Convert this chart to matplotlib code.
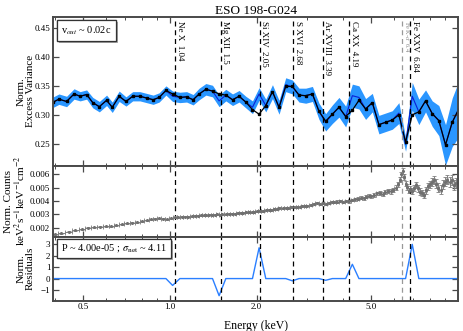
import matplotlib
matplotlib.use("Agg")
import matplotlib.pyplot as plt
import matplotlib.patheffects as pe
from matplotlib.ticker import FixedLocator, NullFormatter

plt.rcParams['font.family'] = 'serif'
plt.rcParams['font.serif'] = ['Liberation Serif', 'DejaVu Serif']
plt.rcParams['mathtext.fontset'] = 'stix'

# excess variance spectrum (top panel)
ev_energy = [0.394, 0.412, 0.438, 0.465, 0.488, 0.514, 0.540, 0.569, 0.603, 0.631,
             0.667, 0.704, 0.743, 0.787, 0.830, 0.875, 0.918, 0.969,
             1.022, 1.083, 1.143, 1.204, 1.264, 1.333, 1.406, 1.482, 1.564, 1.650,
             1.739, 1.834, 1.935,
             2.040, 2.152, 2.270, 2.393, 2.524, 2.663, 2.807, 2.961, 3.124, 3.293,
             3.473, 3.664, 3.863, 4.075, 4.299, 4.531, 4.779,
             5.042, 5.315, 5.607, 5.915, 6.235, 6.577, 6.938, 7.313, 7.715, 8.139,
             8.580, 9.051, 9.548, 10.06]
ev_data = [0.322, 0.327, 0.323, 0.336, 0.332, 0.335, 0.321, 0.314, 0.325, 0.313,
           0.332, 0.323, 0.332, 0.332, 0.329, 0.326, 0.330, 0.342,
           0.332, 0.330, 0.331, 0.326, 0.336, 0.344, 0.341, 0.324, 0.334, 0.326,
           0.332, 0.322, 0.313,
           0.336, 0.316, 0.340, 0.313, 0.352, 0.348, 0.334, 0.333, 0.336, 0.306,
           0.287, 0.301, 0.313, 0.297, 0.333, 0.330, 0.310,
           0.321, 0.283, 0.287, 0.291, 0.303, 0.249, 0.332, 0.305, 0.324, 0.302,
           0.290, 0.248, 0.287, 0.310]
ev_err = [0.009, 0.009, 0.009, 0.009, 0.008, 0.008, 0.009, 0.009, 0.009, 0.009,
          0.009, 0.008, 0.008, 0.008, 0.008, 0.008, 0.008, 0.008,
          0.009, 0.009, 0.009, 0.009, 0.010, 0.010, 0.010, 0.010, 0.010, 0.010,
          0.010, 0.010, 0.011,
          0.011, 0.011, 0.012, 0.012, 0.012, 0.012, 0.012, 0.013, 0.013, 0.014,
          0.015, 0.016, 0.017, 0.018, 0.020, 0.020, 0.018,
          0.016, 0.016, 0.016, 0.016, 0.018, 0.012, 0.024, 0.022, 0.019, 0.022,
          0.026, 0.035, 0.042, 0.048]
ev_model = [0.322, 0.327, 0.323, 0.336, 0.332, 0.335, 0.321, 0.314, 0.325, 0.313,
            0.332, 0.323, 0.332, 0.332, 0.329, 0.326, 0.330, 0.342,
            0.336, 0.330, 0.331, 0.326, 0.336, 0.344, 0.341, 0.336, 0.334, 0.326,
            0.332, 0.322, 0.309,
            0.301, 0.316, 0.340, 0.313, 0.349, 0.349, 0.334, 0.333, 0.336, 0.306,
            0.289, 0.301, 0.313, 0.297, 0.308, 0.325, 0.310,
            0.321, 0.283, 0.287, 0.291, 0.300, 0.253, 0.300, 0.305, 0.324, 0.302,
            0.290, 0.248, 0.287, 0.310]
residuals = [0, 0, 0, 0, 0, 0, 0, 0, 0, 0, 0, 0, 0, 0, 0, 0, 0, 0,
             -0.6, 0, 0, 0, 0, 0, 0, -1.5, 0, 0, 0, 0, 0,
             2.7, 0, 0, 0, 0, -0.2, 0, 0, 0, 0, -0.15, 0, 0, 0, 1.25, 0, 0,
             0, 0, 0, 0, 0, 0, 3.0, 0, 0, 0, 0, 0, 0, 0]

# mean energy spectrum (middle panel)
sp_energy = [0.40, 0.42, 0.445, 0.47, 0.495, 0.52, 0.545, 0.57, 0.60, 0.625, 0.65,
             0.68, 0.71, 0.74, 0.77, 0.80, 0.83, 0.86, 0.89, 0.92, 0.95, 0.98,
             1.01, 1.04, 1.07, 1.10, 1.13, 1.16, 1.19, 1.22, 1.25, 1.28, 1.31,
             1.34, 1.37, 1.40, 1.43, 1.46, 1.49, 1.52, 1.56, 1.60, 1.64, 1.68,
             1.72, 1.76, 1.80, 1.84, 1.88, 1.92, 1.96, 2.00, 2.05, 2.10, 2.15,
             2.20, 2.25, 2.30, 2.35, 2.40, 2.46, 2.52, 2.58, 2.64, 2.70, 2.76,
             2.82, 2.88, 2.94, 3.00,
             3.08, 3.16, 3.24, 3.32, 3.40, 3.48, 3.56, 3.64, 3.72, 3.80, 3.90,
             4.00, 4.10, 4.20, 4.30, 4.40, 4.50, 4.60, 4.70, 4.80, 4.90, 5.00,
             5.12, 5.24, 5.36, 5.48, 5.60, 5.72, 5.84, 5.96, 6.08, 6.18, 6.28,
             6.36, 6.42, 6.50, 6.58, 6.66, 6.75, 6.84, 6.94, 7.04, 7.14, 7.25,
             7.36, 7.48, 7.60, 7.72, 7.85, 7.98, 8.12, 8.26, 8.40, 8.55, 8.70,
             8.86, 9.02, 9.18, 9.35, 9.52, 9.70, 9.88]
sp_counts = [0.00150, 0.00158, 0.00170, 0.00182, 0.00190, 0.00200, 0.00205, 0.00208,
             0.00212, 0.00210, 0.00218, 0.00225, 0.00232, 0.00238, 0.00242, 0.00250,
             0.00256, 0.00262, 0.00266, 0.00270, 0.00268, 0.00265,
             0.00272, 0.00280, 0.00279, 0.00281, 0.00284, 0.00283, 0.00287, 0.00290,
             0.00289, 0.00292, 0.00294, 0.00293, 0.00296, 0.00298, 0.00297, 0.00300,
             0.00299, 0.00302, 0.00300, 0.00304, 0.00306, 0.00305, 0.00310, 0.00313,
             0.00312, 0.00316, 0.00318, 0.00315, 0.00320, 0.00322, 0.00326, 0.00325,
             0.00330, 0.00334, 0.00332, 0.00338, 0.00342, 0.00348, 0.00345, 0.00350,
             0.00348, 0.00353, 0.00356, 0.00352, 0.00358, 0.00362, 0.00360, 0.00366,
             0.00370, 0.00375, 0.00382, 0.00378, 0.00385, 0.00380, 0.00388, 0.00392,
             0.00390, 0.00396, 0.00400, 0.00394, 0.00402, 0.00398, 0.00408, 0.00412,
             0.00418, 0.00425, 0.00420, 0.00432, 0.00440, 0.00436,
             0.00445, 0.00458, 0.00462, 0.00455, 0.00470, 0.00476, 0.00472, 0.00480,
             0.00500, 0.00525, 0.00560, 0.00600, 0.00625, 0.00580, 0.00530, 0.00505,
             0.00478, 0.00490, 0.00475, 0.00500, 0.00520, 0.00495, 0.00470, 0.00460,
             0.00445, 0.00480, 0.00510, 0.00525, 0.00540, 0.00555, 0.00530, 0.00500,
             0.00485, 0.00520, 0.00545, 0.00560, 0.00540, 0.00555, 0.00520, 0.00535]
sp_err = [0.00004, 0.00004, 0.00004, 0.00004, 0.00004, 0.00004, 0.00004, 0.00004,
          0.00004, 0.00004, 0.00004, 0.00004, 0.00004, 0.00004, 0.00004, 0.00004,
          0.00004, 0.00004, 0.00004, 0.00004, 0.00004, 0.00004,
          0.00004, 0.00004, 0.00004, 0.00004, 0.00004, 0.00004, 0.00004, 0.00004,
          0.00004, 0.00004, 0.00004, 0.00004, 0.00004, 0.00004, 0.00004, 0.00004,
          0.00004, 0.00004, 0.00004, 0.00004, 0.00004, 0.00005, 0.00005, 0.00005,
          0.00005, 0.00005, 0.00005, 0.00005, 0.00005, 0.00005, 0.00005, 0.00005,
          0.00005, 0.00005, 0.00005, 0.00005, 0.00006, 0.00006, 0.00006, 0.00006,
          0.00006, 0.00006, 0.00006, 0.00006, 0.00006, 0.00006, 0.00006, 0.00007,
          0.00007, 0.00007, 0.00007, 0.00007, 0.00008, 0.00008, 0.00008, 0.00008,
          0.00008, 0.00009, 0.00009, 0.00009, 0.00009, 0.00010, 0.00010, 0.00010,
          0.00011, 0.00011, 0.00011, 0.00012, 0.00012, 0.00012,
          0.00013, 0.00013, 0.00014, 0.00014, 0.00015, 0.00015, 0.00016, 0.00016,
          0.00017, 0.00018, 0.00019, 0.00020, 0.00021, 0.00020, 0.00020, 0.00020,
          0.00021, 0.00021, 0.00022, 0.00022, 0.00023, 0.00024, 0.00024, 0.00025,
          0.00026, 0.00027, 0.00028, 0.00028, 0.00029, 0.00030, 0.00031, 0.00032,
          0.00033, 0.00034, 0.00035, 0.00036, 0.00037, 0.00038, 0.00039, 0.00040]

# line identifications
line_names = ['Ne X', 'Mg XII', 'Si XIV', 'S XVI', 'Ar XVIII', 'Ca XX', 'Fe XXV']
line_energies = [1.04, 1.5, 2.05, 2.68, 3.39, 4.19, 6.84]
feka_energy = 6.4

title = 'ESO 198-G024'
vout_text = r'v$_{out}$ ~ 0.02c'
stat_text = r'P ~ 4.00e-05 ; $\sigma_{\rm net}$ ~ 4.11'

xmin, xmax = 0.393, 10.0
spine_col = '#4a4a4a'
band_col = '#1e90ff'

fig = plt.figure(figsize=(4.63, 3.31), dpi=100)
left, width = 0.1145, 0.8747
ax1 = fig.add_axes([left, 0.4994, width, 0.4492])
ax2 = fig.add_axes([left, 0.2849, width, 0.2145])
ax3 = fig.add_axes([left, 0.0915, width, 0.1934])

# top panel
lo = [v - e for v, e in zip(ev_data, ev_err)]
hi = [v + e for v, e in zip(ev_data, ev_err)]
ax1.fill_between(ev_energy, lo, hi, color=band_col, lw=0, alpha=0.95)
ax1.plot(ev_energy, ev_data, color='#0a1fd6', lw=0.8)
ax1.plot(ev_energy, ev_model, color='black', lw=0.9, marker='s', ms=1.5)
ax1.set_ylim(0.212, 0.469)
ax1.set_yticks([0.25, 0.30, 0.35, 0.40, 0.45])
ax1.set_yticklabels(['0.25', '0.30', '0.35', '0.40', '0.45'])
ax1.set_ylabel('Norm.\nExcess Variance', fontsize=8, linespacing=1.0)
ax1.yaxis.set_label_coords(-0.045, 0.5)
ax1.set_title(title, fontsize=9.5, pad=2)
t = ax1.text(0.02, 0.95, vout_text, transform=ax1.transAxes, fontsize=7.5,
             ha='left', va='top',
             bbox=dict(boxstyle='square,pad=0.4', fc='white', ec='#333333', lw=0.9))
t.get_bbox_patch().set_path_effects([pe.withSimplePatchShadow(offset=(1.5, -1.5),
                                                              shadow_rgbFace='#999999',
                                                              alpha=0.8), pe.Normal()])

for name, en in zip(line_names, line_energies):
    ax1.text(en * 1.006, 0.975, f'{name}  {en:g}', transform=ax1.get_xaxis_transform(),
             rotation=-90, ha='left', va='top', fontsize=6.5)
ax1.text(feka_energy * 1.006, 0.975, r'Fe K-$\alpha$  6.4', transform=ax1.get_xaxis_transform(),
         rotation=-90, ha='left', va='top', fontsize=4.6, color='#888888')

# middle panel
xerr_lo = []
xerr_hi = []
for i, en in enumerate(sp_energy):
    prev = sp_energy[i - 1] if i > 0 else en - (sp_energy[1] - en)
    nxt = sp_energy[i + 1] if i < len(sp_energy) - 1 else en + (en - sp_energy[i - 1])
    xerr_lo.append((en - prev) / 2)
    xerr_hi.append((nxt - en) / 2)
ax2.errorbar(sp_energy, sp_counts, yerr=sp_err, xerr=[xerr_lo, xerr_hi], fmt='o',
             ms=1.2, color='#707070', ecolor='#808080', elinewidth=0.7, capsize=1.2,
             capthick=0.6)
ax2.set_ylim(0.00133, 0.00664)
ax2.set_yticks([0.002, 0.003, 0.004, 0.005, 0.006])
ax2.set_yticklabels(['0.002', '0.003', '0.004', '0.005', '0.006'])
ax2.set_ylabel('Norm. Counts\nkeV$^2$s$^{-1}$keV$^{-1}$cm$^{-2}$', fontsize=8,
               linespacing=1.0)
ax2.yaxis.set_label_coords(-0.064, 0.5)

# bottom panel
ax3.plot(ev_energy, residuals, color='#2a7fff', lw=1.0)
ax3.set_ylim(-1.94, 3.67)
ax3.set_yticks([-1, 0, 1, 2, 3])
ax3.set_ylabel('Norm.\nResiduals', fontsize=8, linespacing=1.0)
ax3.yaxis.set_label_coords(-0.046, 0.5)
ax3.set_xlabel('Energy (keV)', fontsize=8.5, labelpad=6)
t2 = ax3.text(0.02, 0.91, stat_text, transform=ax3.transAxes, fontsize=7.5,
              ha='left', va='top',
              bbox=dict(boxstyle='square,pad=0.35', fc='white', ec='#333333', lw=0.9))
t2.get_bbox_patch().set_path_effects([pe.withSimplePatchShadow(offset=(1.5, -1.5),
                                                               shadow_rgbFace='#999999',
                                                               alpha=0.8), pe.Normal()])

for ax in (ax1, ax2, ax3):
    ax.set_xscale('log')
    ax.set_xlim(xmin, xmax)
    for en in line_energies:
        ax.axvline(en, color='black', ls=(0, (4, 3)), lw=0.9)
    ax.axvline(feka_energy, color='#999999', ls=(0, (4, 3)), lw=0.9)
    ax.xaxis.set_major_locator(FixedLocator([0.5, 1.0, 2.0, 5.0]))
    ax.xaxis.set_minor_locator(FixedLocator([0.4, 0.6, 0.7, 0.8, 0.9, 3, 4, 6, 7, 8, 9]))
    ax.xaxis.set_minor_formatter(NullFormatter())
    ax.tick_params(which='both', direction='in', top=True, right=True,
                   labelsize=6.5, colors='black', pad=2)
    ax.tick_params(which='major', length=4, width=0.9, color=spine_col)
    ax.tick_params(which='minor', length=2.5, width=0.7, color=spine_col)
    for s in ax.spines.values():
        s.set_color(spine_col)
        s.set_linewidth(1.4)

ax1.tick_params(labelbottom=False)
ax2.tick_params(labelbottom=False)
ax3.set_xticklabels(['0.5', '1.0', '2.0', '5.0'])

fig.savefig('out.png', dpi=100)
